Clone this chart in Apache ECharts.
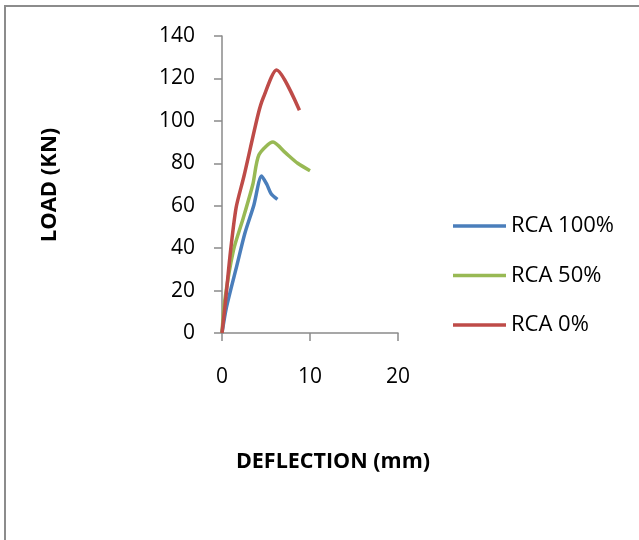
<!DOCTYPE html>
<html>
<head>
<meta charset="utf-8">
<script src="https://cdn.jsdelivr.net/npm/echarts@6/dist/echarts.min.js"></script>
<style>
  html, body { margin: 0; padding: 0; background: #fff; }
  #load-chart { width: 639px; height: 540px; }
</style>
</head>
<body>
<div id="load-chart"></div>
<script>
// deflection (mm) / load (kN)
var rca100X = [0, 0.5, 1.7, 2.6, 3.6, 4.5, 5.1, 5.6, 6.3];
var rca100Y = [0, 12, 32, 47, 60, 74, 70, 65.5, 63];
var rca50X = [0, 0.3, 1.3, 2.4, 3.5, 4.2, 5.8, 7.2, 8.6, 10];
var rca50Y = [0, 15, 39, 54, 70, 84, 90, 85, 80, 76.5];
var rca0X = [0, 0.4, 0.9, 1.6, 2.5, 4.1, 4.7, 6.2, 8.8];
var rca0Y = [0, 15, 36, 59, 74, 103, 111, 124, 105];

var seriesNames = ["RCA 100%", "RCA 50%", "RCA 0%"];
var seriesColors = ["#4a7ebb", "#98b954", "#be4b48"];
var xTicks = { min: 0, max: 20, interval: 10 };
var yTicks = { min: 0, max: 140, interval: 20 };

function pairs(xs, ys) {
  return xs.map(function(x, i) { return [x, ys[i]]; });
}

var myChart = echarts.init(document.getElementById("load-chart"));
var font = "Open Sans";

var allData = [pairs(rca100X, rca100Y), pairs(rca50X, rca50Y), pairs(rca0X, rca0Y)];

myChart.setOption({
  animation: false,
  grid: { left: 222, top: 36, width: 176, height: 297 },
  legend: {
    orient: "vertical",
    left: 448,
    top: 210,
    icon: "rect",
    itemWidth: 53,
    itemHeight: 3.5,
    itemGap: 27.5,
    textStyle: { fontFamily: font, fontSize: 22, color: "#000", lineHeight: 21 },
    data: seriesNames
  },
  xAxis: {
    type: "value",
    min: xTicks.min,
    max: xTicks.max,
    interval: xTicks.interval,
    splitLine: { show: false },
    axisLine: { show: true, lineStyle: { color: "#8a8a8a", width: 1.5 } },
    axisTick: { show: true, length: 8, lineStyle: { color: "#8a8a8a", width: 1.5 } },
    axisLabel: { margin: 34, fontFamily: font, fontSize: 21, color: "#000" }
  },
  yAxis: {
    type: "value",
    min: yTicks.min,
    max: yTicks.max,
    interval: yTicks.interval,
    splitLine: { show: false },
    axisLine: { show: true, lineStyle: { color: "#8a8a8a", width: 1.5 } },
    axisTick: { show: true, length: 8, lineStyle: { color: "#8a8a8a", width: 1.5 } },
    axisLabel: { margin: 27, fontFamily: font, fontSize: 21, color: "#000" }
  },
  graphic: [
    {
      type: "rect",
      shape: { x: 5, y: 6, width: 700, height: 600 },
      style: { fill: "none", stroke: "#8c8c8c", lineWidth: 2 },
      silent: true
    },
    {
      type: "text",
      x: 50,
      y: 185,
      rotation: Math.PI / 2,
      style: {
        text: "LOAD (KN)",
        font: "bold 22px 'Open Sans'",
        fill: "#000",
        align: "center",
        verticalAlign: "middle"
      }
    },
    {
      type: "text",
      x: 333,
      y: 462,
      style: {
        text: "DEFLECTION (mm)",
        font: "bold 21.5px 'Open Sans'",
        fill: "#000",
        align: "center",
        verticalAlign: "middle"
      }
    }
  ],
  series: seriesNames.map(function(name, i) {
    return {
      name: name,
      type: "line",
      smooth: 0.25,
      symbol: "none",
      data: allData[i],
      itemStyle: { color: seriesColors[i] },
      lineStyle: { color: seriesColors[i], width: 3.5 }
    };
  })
});
</script>
</body>
</html>
